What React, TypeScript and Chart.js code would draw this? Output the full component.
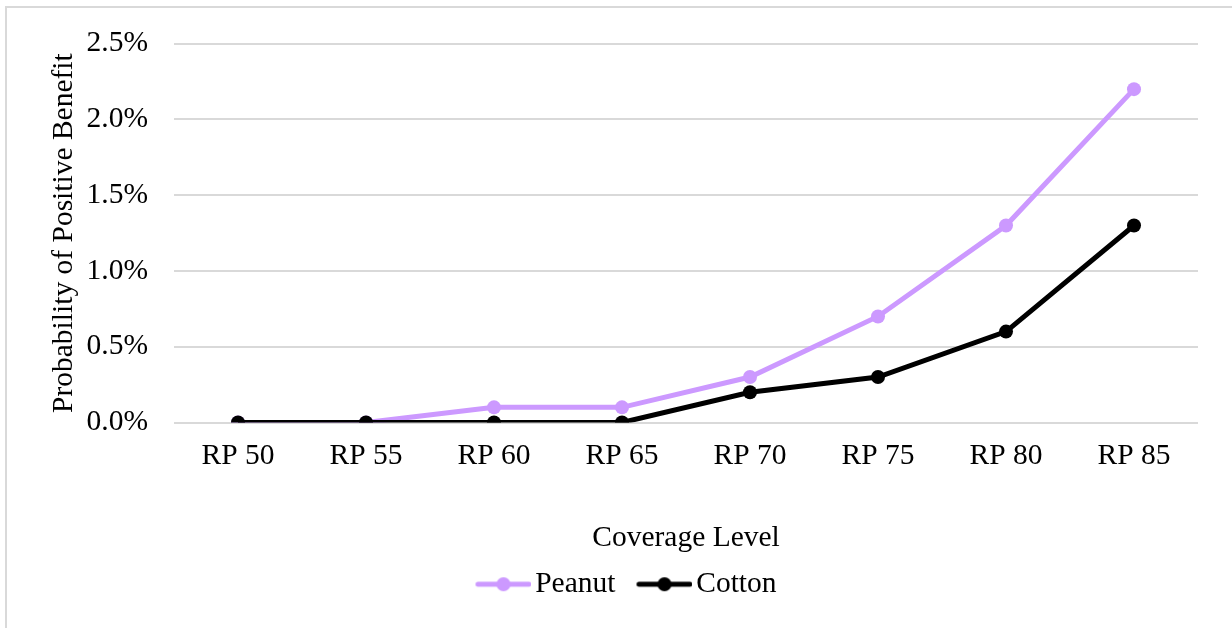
import React, { useEffect, useRef } from "react";
import { Chart, registerables } from "chart.js";

Chart.register(...registerables);

const categories = ["RP 50", "RP 55", "RP 60", "RP 65", "RP 70", "RP 75", "RP 80", "RP 85"];
const peanutValues = [0, 0, 0.1, 0.1, 0.3, 0.7, 1.3, 2.2];
const cottonValues = [0, 0, 0, 0, 0.2, 0.3, 0.6, 1.3];
const seriesNames = ["Peanut", "Cotton"];
const seriesColors = ["#CC99FF", "#000000"];
const yTitle = "Probability of Positive Benefit";
const xTitle = "Coverage Level";

const FONT = "'Liberation Serif', 'Times New Roman', serif";
const FS = 29.5;
const BOXW = 56;

function makeLegendImage(color: string): HTMLCanvasElement {
  const c = document.createElement("canvas");
  c.width = BOXW + 22;
  c.height = 18;
  const ctx = c.getContext("2d")!;
  const x0 = c.width - 56;
  ctx.strokeStyle = color;
  ctx.lineWidth = 5;
  ctx.lineCap = "round";
  ctx.beginPath();
  ctx.moveTo(x0 + 2.5, 9);
  ctx.lineTo(c.width - 2.5, 9);
  ctx.stroke();
  ctx.fillStyle = color;
  ctx.beginPath();
  ctx.arc(x0 + 28, 9, 7, 0, Math.PI * 2);
  ctx.fill();
  return c;
}

const borderPlugin = {
  id: "outerBorder",
  beforeDraw(chart: any) {
    const ctx = chart.ctx;
    ctx.save();
    ctx.fillStyle = "#ffffff";
    ctx.fillRect(0, 0, chart.width, chart.height);
    ctx.strokeStyle = "#d9d9d9";
    ctx.lineWidth = 2;
    ctx.strokeRect(6, 7, chart.width + 50, chart.height + 50);
    ctx.restore();
  },
};

export default function App() {
  const ref = useRef<HTMLCanvasElement | null>(null);

  useEffect(() => {
    if (!ref.current) return;
    const images = seriesColors.map((c) => makeLegendImage(c));
    const chart = new Chart(ref.current, {
      type: "line",
      data: {
        labels: categories,
        datasets: [
          {
            label: seriesNames[0],
            data: peanutValues,
            borderColor: seriesColors[0],
            backgroundColor: seriesColors[0],
            borderWidth: 5,
            pointRadius: 7,
            pointBorderWidth: 0,
            pointBackgroundColor: seriesColors[0],
            tension: 0,
            order: 1,
          },
          {
            label: seriesNames[1],
            data: cottonValues,
            borderColor: seriesColors[1],
            backgroundColor: seriesColors[1],
            borderWidth: 5,
            pointRadius: 7,
            pointBorderWidth: 0,
            pointBackgroundColor: seriesColors[1],
            tension: 0,
            order: 0,
          },
        ],
      },
      options: {
        responsive: false,
        animation: false,
        devicePixelRatio: 1,
        layout: { padding: { left: 43, right: 34, top: 43, bottom: 19 } },
        plugins: {
          tooltip: { enabled: false },
          legend: {
            position: "bottom",
            labels: {
              usePointStyle: true,
              pointStyleWidth: BOXW,
              padding: 10,
              color: "#000000",
              font: { family: FONT, size: FS },
              generateLabels: (ch: any) =>
                ch.data.datasets.map((ds: any, i: number) => ({
                  text: ds.label,
                  fillStyle: ds.borderColor,
                  strokeStyle: ds.borderColor,
                  lineWidth: 0,
                  pointStyle: images[i],
                  datasetIndex: i,
                  hidden: false,
                  fontColor: "#000000",
                })),
            },
          },
        },
        scales: {
          x: {
            offset: true,
            grid: { display: false, drawTicks: false },
            border: { display: false },
            ticks: { color: "#000000", font: { family: FONT, size: FS }, padding: 16, maxRotation: 0 },
            title: {
              display: true,
              text: xTitle,
              color: "#000000",
              font: { family: FONT, size: FS },
              padding: { top: 4, bottom: 4 },
            },
            afterFit: (s: any) => {
              s.height = 137;
            },
          },
          y: {
            min: 0,
            max: 2.5,
            grid: { color: "#d9d9d9", lineWidth: 2, drawTicks: false },
            border: { display: false },
            ticks: {
              stepSize: 0.5,
              color: "#000000",
              font: { family: FONT, size: FS },
              padding: 26,
              callback: (v: any) => Number(v).toFixed(1) + "%",
            },
            title: {
              display: true,
              text: yTitle,
              color: "#000000",
              font: { family: FONT, size: FS },
              padding: { top: 4, bottom: 4 },
            },
            afterFit: (s: any) => {
              s.width = 131;
            },
          },
        },
      },
      plugins: [borderPlugin],
    } as any);
    return () => chart.destroy();
  }, []);

  return (
    <div style={{ position: "absolute", left: 0, top: 0, width: 1232, height: 628 }}>
      <canvas ref={ref} width={1232} height={628} style={{ display: "block" }} />
    </div>
  );
}
